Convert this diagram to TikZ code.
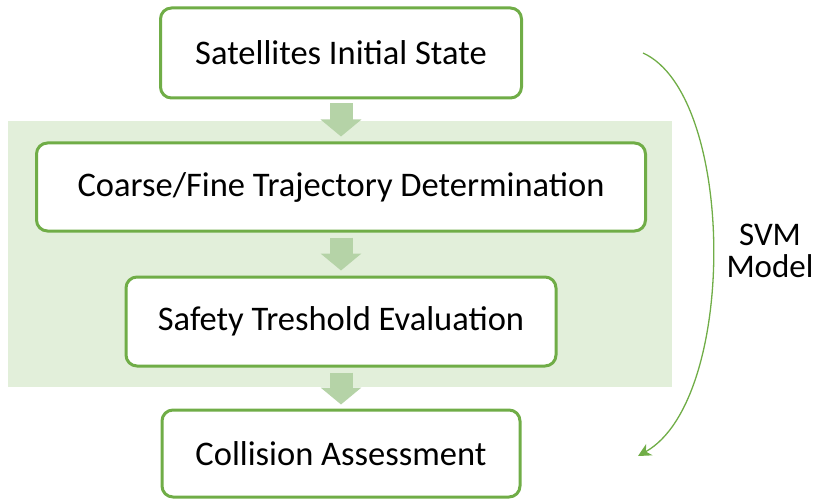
\documentclass[tikz,border=0pt]{standalone}
\usepackage{fontspec}
\setmainfont{Carlito}
\usetikzlibrary{arrows.meta,calc}
\definecolor{boxgreen}{HTML}{70AD47}
\definecolor{panelgreen}{HTML}{E2EFDA}
\definecolor{flowgreen}{HTML}{B5D3A7}
\tikzset{
  stepbox/.style={draw=boxgreen, line width=3pt, fill=white, rounded corners=11pt,
    inner sep=0pt, align=center, font=\fontsize{34.5}{42}\selectfont},
  flow/.style={draw=flowgreen, line width=23pt,
    -{Triangle[width=40pt,length=17pt]}},
  loop/.style={draw=boxgreen, line width=1.3pt,
    -{Stealth[length=13pt,width=13pt,inset=4pt]}}
}
\begin{document}
\begin{tikzpicture}[x=1pt,y=-1pt]
  \useasboundingbox (0,0) rectangle (814,500);
  % shaded panel grouping the two middle stages
  \node[fill=panelgreen, inner sep=0pt, minimum width=664pt, minimum height=266pt]
    (panel) at (340,254) {};
  % process stages
  \node[stepbox, minimum width=361pt, minimum height=90pt] (init) at (341,53) {Satellites Initial State};
  \node[stepbox, minimum width=609pt, minimum height=88pt] (traj) at (341,187) {Coarse/Fine Trajectory Determination};
  \node[stepbox, minimum width=430pt, minimum height=89pt] (safe) at (341,321.5) {Safety Treshold Evaluation};
  \node[stepbox, minimum width=358pt, minimum height=87pt] (coll) at (341,453.5) {Collision Assessment};
  % block arrows between stages
  \draw[flow] ($(init.south)+(0,4)$) -- ($(traj.north)+(0,-5)$);
  \draw[flow] ($(traj.south)+(0,5)$) -- ($(safe.north)+(0,-5)$);
  \draw[flow] ($(safe.south)+(0,5)$) -- ($(coll.north)+(0,-4)$);
  % curved arrow spanning the whole pipeline
  \coordinate (loopstart) at (643,53);
  \coordinate (loopend) at (638,456);
  \draw[loop] (loopstart) .. controls (736,95) and (738,400) .. (loopend);
  \node[align=center, font=\fontsize{33}{32}\selectfont] (svm) at (770,251) {SVM\\Model};
\end{tikzpicture}
\end{document}
